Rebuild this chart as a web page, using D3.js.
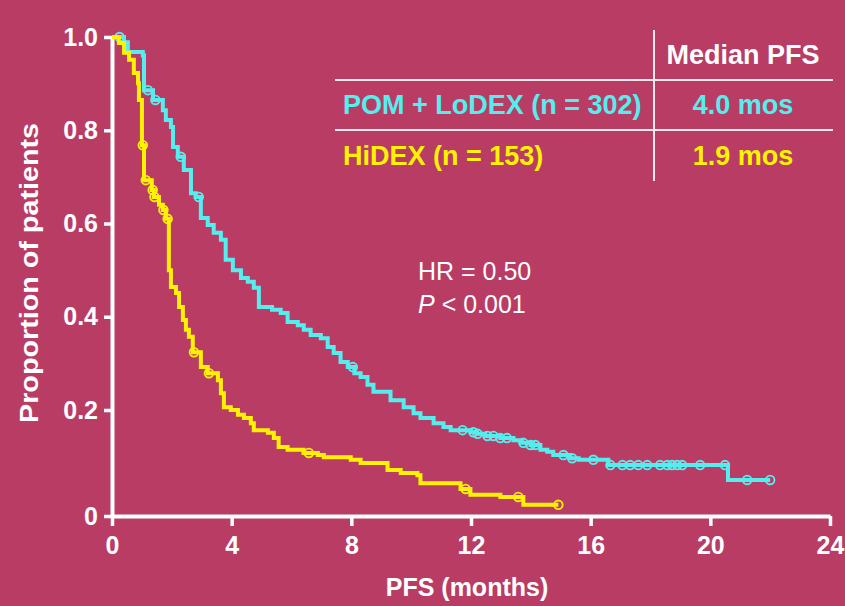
<!DOCTYPE html>
<html><head><meta charset="utf-8">
<script src="https://cdn.jsdelivr.net/npm/d3@7"></script>
<style>html,body{margin:0;padding:0;background:#B93C65;} svg{display:block}</style>
</head><body><svg id="c" width="845" height="606"></svg>
<script>
// ---- data ----
const xTicks = [0, 4, 8, 12, 16, 20, 24];
const yTicks = [0, 0.2, 0.4, 0.6, 0.8, 1.0];
const yTickLabels = ["0", "0.2", "0.4", "0.6", "0.8", "1.0"];

// POM + LoDEX : event times (months) and survival after each event
const pomTimes = [0, 0.40, 0.53, 1.03, 1.07, 1.37, 1.70, 1.80, 1.97, 2.04, 2.20, 2.40, 2.64, 2.80, 2.97, 3.20, 3.40, 3.64, 3.80, 4.04, 4.31, 4.54, 4.74, 4.91, 5.35, 5.64, 5.87, 6.21, 6.41, 6.64, 6.98, 7.21, 7.41, 7.64, 7.88, 8.10, 8.31, 8.54, 8.74, 9.31, 9.75, 10.08, 10.31, 10.75, 11.08, 11.32, 12.00, 12.20, 12.48, 12.98, 13.42, 13.70, 13.99, 14.32, 14.55, 14.75, 15.32, 15.60, 16.59, 20.59];
const pomSurv  = [1.0, 0.989, 0.968, 0.961, 0.886, 0.865, 0.843, 0.822, 0.807, 0.764, 0.743, 0.715, 0.665, 0.657, 0.612, 0.597, 0.580, 0.565, 0.522, 0.500, 0.483, 0.475, 0.462, 0.421, 0.415, 0.408, 0.389, 0.382, 0.372, 0.361, 0.354, 0.335, 0.322, 0.303, 0.292, 0.279, 0.271, 0.254, 0.239, 0.221, 0.206, 0.194, 0.185, 0.175, 0.168, 0.162, 0.158, 0.155, 0.151, 0.147, 0.143, 0.138, 0.134, 0.125, 0.121, 0.115, 0.109, 0.106, 0.096, 0.068];
const pomEnd = 22.0;
const pomCensor = [0.25, 1.20, 1.45, 2.30, 2.90, 8.05, 11.72, 12.08, 12.22, 12.55, 12.75, 12.98, 13.20, 13.75, 13.99, 14.15, 15.09, 15.38, 16.09, 16.66, 17.06, 17.32, 17.59, 17.89, 18.32, 18.56, 18.72, 18.89, 19.06, 19.66, 20.49, 21.23, 22.0];

// HiDEX
const hiTimes = [0, 0.23, 0.40, 0.57, 0.73, 0.87, 0.90, 1.00, 1.07, 1.33, 1.40, 1.57, 1.70, 1.80, 1.90, 1.97, 2.14, 2.24, 2.37, 2.47, 2.57, 2.70, 2.97, 3.20, 3.54, 3.64, 3.74, 3.97, 4.21, 4.41, 4.64, 4.74, 5.21, 5.41, 5.57, 5.87, 6.40, 6.88, 7.08, 7.98, 8.31, 9.21, 9.65, 10.21, 10.31, 11.65, 11.98, 12.98, 13.75];
const hiSurv  = [1.0, 0.987, 0.966, 0.951, 0.923, 0.901, 0.865, 0.768, 0.693, 0.672, 0.657, 0.640, 0.629, 0.610, 0.500, 0.464, 0.451, 0.421, 0.393, 0.372, 0.357, 0.324, 0.292, 0.279, 0.264, 0.236, 0.206, 0.200, 0.191, 0.185, 0.175, 0.162, 0.157, 0.147, 0.130, 0.125, 0.119, 0.115, 0.111, 0.106, 0.100, 0.087, 0.081, 0.077, 0.062, 0.051, 0.040, 0.036, 0.021];
const hiEnd = 14.92;
const hiCensor = [1.03, 1.13, 1.36, 1.42, 1.72, 1.86, 2.74, 3.24, 6.58, 11.82, 13.58, 14.92];

const groupNames = ["POM + LoDEX (n = 302)", "HiDEX (n = 153)"];
const medians = ["4.0 mos", "1.9 mos"];
const colors = ["#55EEEE", "#FFF200"];

// ---- drawing ----
const svg = d3.select("#c");
const font = "Arial, 'Liberation Sans', sans-serif";
svg.append("rect").attr("width", 845).attr("height", 606).attr("fill", "#B93C65");

const x = d3.scaleLinear().domain([0, 24]).range([112, 830]);
const y = d3.scaleLinear().domain([0, 0.2, 1]).range([516, 410, 37]);

// axes
const gy = svg.append("g").attr("transform", "translate(112,0)")
  .call(d3.axisLeft(y).tickValues(yTicks).tickFormat((d, i) => yTickLabels[i]).tickSize(8).tickSizeOuter(0).tickPadding(6));
const gx = svg.append("g").attr("transform", "translate(0,516)")
  .call(d3.axisBottom(x).tickValues(xTicks).tickFormat(d3.format("d")).tickSize(10).tickSizeOuter(0).tickPadding(10));
[gx, gy].forEach(g => {
  g.select(".domain").attr("stroke", "#fff").attr("stroke-width", 4);
  g.selectAll(".tick line").attr("stroke", "#fff").attr("stroke-width", 3.5);
  g.selectAll("text").attr("fill", "#fff").style("font-family", font).style("font-size", "25px").style("font-weight", "bold");
});

// axis titles
svg.append("text").attr("x", 467).attr("y", 596).attr("text-anchor", "middle")
  .attr("fill", "#fff").style("font-family", font).style("font-size", "25px").style("font-weight", "bold")
  .text("PFS (months)");
svg.append("text").attr("transform", "translate(38,273) rotate(-90)").attr("text-anchor", "middle")
  .attr("fill", "#fff").style("font-family", font).style("font-size", "25px").style("font-weight", "bold")
  .attr("textLength", 300).attr("lengthAdjust", "spacingAndGlyphs")
  .text("Proportion of patients");

// curves
const line = d3.line().x(d => x(d[0])).y(d => y(d[1])).curve(d3.curveStepAfter);
function drawKM(times, surv, end, cens, color) {
  const pts = times.map((t, i) => [t, surv[i]]);
  pts.push([end, surv[surv.length - 1]]);
  svg.append("path").attr("d", line(pts)).attr("fill", "none")
    .attr("stroke", color).attr("stroke-width", 4).attr("stroke-linejoin", "miter");
  const valAt = t => surv[Math.max(0, d3.bisectRight(times, t) - 1)];
  svg.append("g").selectAll("circle").data(cens).join("circle")
    .attr("cx", d => x(d)).attr("cy", d => y(valAt(d))).attr("r", 4.3)
    .attr("fill", "none").attr("stroke", color).attr("stroke-width", 1.9);
}
drawKM(pomTimes, pomSurv, pomEnd, pomCensor, colors[0]);
drawKM(hiTimes, hiSurv, hiEnd, hiCensor, colors[1]);

// table
const tl = svg.append("g").attr("stroke", "#F6E8EE").attr("stroke-width", 2);
tl.append("line").attr("x1", 335).attr("x2", 833).attr("y1", 80).attr("y2", 80);
tl.append("line").attr("x1", 335).attr("x2", 833).attr("y1", 130).attr("y2", 130);
tl.append("line").attr("x1", 654).attr("x2", 654).attr("y1", 30).attr("y2", 181);

const tt = svg.append("g").style("font-family", font).style("font-size", "27px").style("font-weight", "bold");
tt.append("text").attr("x", 743).attr("y", 64).attr("text-anchor", "middle").attr("fill", "#fff").text("Median PFS");
[114, 165].forEach((by, i) => {
  tt.append("text").attr("x", 343).attr("y", by).attr("fill", colors[i]).text(groupNames[i]);
  tt.append("text").attr("x", 743).attr("y", by).attr("text-anchor", "middle").attr("fill", colors[i]).text(medians[i]);
});

// HR text
const ht = svg.append("g").style("font-family", font).style("font-size", "25px").attr("fill", "#fff");
ht.append("text").attr("x", 418).attr("y", 280).text("HR = 0.50");
const p = ht.append("text").attr("x", 418).attr("y", 313);
p.append("tspan").style("font-style", "italic").text("P");
p.append("tspan").text(" < 0.001");
</script></body></html>
